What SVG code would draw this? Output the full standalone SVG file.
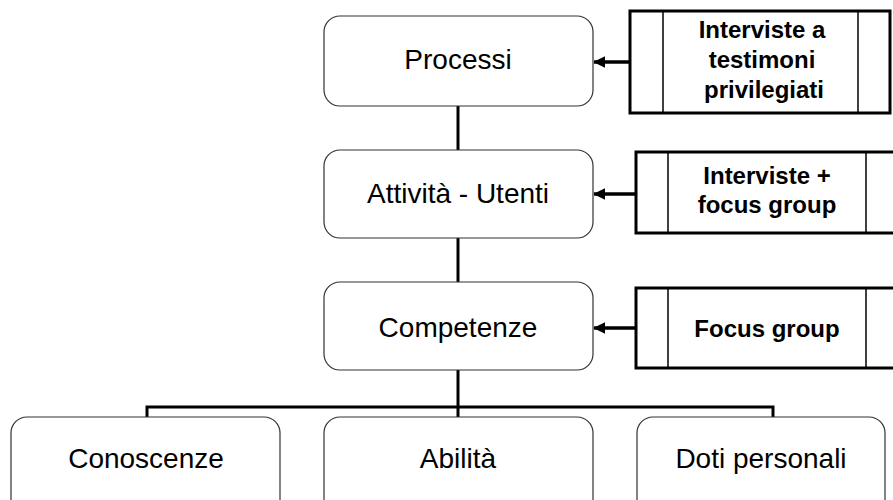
<svg xmlns="http://www.w3.org/2000/svg" width="893" height="500" viewBox="0 0 893 500">
<style>
.rb{fill:#fff;stroke:#333;stroke-width:1.2}
.t{font-family:"Liberation Sans",Arial,sans-serif;font-size:28px;fill:#000;text-anchor:middle}
.b{font-family:"Liberation Sans",Arial,sans-serif;font-size:24px;font-weight:bold;fill:#000;text-anchor:middle}
.ob{fill:#fff;stroke:#000;stroke-width:3}
.il{stroke:#000;stroke-width:1.5}
.c{stroke:#000;stroke-width:3;fill:none}
.ar{stroke:#000;stroke-width:3.5;fill:none;marker-end:url(#ah)}
</style>
<defs>
<marker id="ah" markerWidth="4" markerHeight="4" refX="3.2" refY="2" orient="auto" markerUnits="strokeWidth">
<path d="M0,0.3 L3.4,2 L0,3.7 Z" fill="#000"/>
</marker>
</defs>
<rect width="893" height="500" fill="#fff"/>
<g id="connectors">
<line class="c" x1="458" y1="106" x2="458" y2="150"/>
<line class="c" x1="458" y1="238" x2="458" y2="282"/>
<line class="c" x1="458" y1="370" x2="458" y2="417"/>
<polyline class="c" points="147,417 147,407 773,407 773,417"/>
<line class="ar" x1="630" y1="62" x2="594" y2="62"/>
<line class="ar" x1="636" y1="194" x2="594" y2="194"/>
<line class="ar" x1="636" y1="328" x2="594" y2="328"/>
</g>
<g id="processi">
<rect class="rb" x="324" y="16" width="269" height="90" rx="16"/>
<text class="t" x="458" y="69">Processi</text>
</g>
<g id="attivita">
<rect class="rb" x="324" y="150" width="269" height="88" rx="16"/>
<text class="t" x="458" y="203">Attività - Utenti</text>
</g>
<g id="competenze">
<rect class="rb" x="324" y="282" width="269" height="88" rx="16"/>
<text class="t" x="458" y="337">Competenze</text>
</g>
<g id="conoscenze">
<rect class="rb" x="11" y="417" width="269" height="100" rx="16"/>
<text class="t" x="146" y="468">Conoscenze</text>
</g>
<g id="abilita">
<rect class="rb" x="324" y="417" width="269" height="100" rx="16"/>
<text class="t" x="458" y="468">Abilità</text>
</g>
<g id="doti">
<rect class="rb" x="637" y="417" width="248" height="100" rx="16"/>
<text class="t" x="761" y="468">Doti personali</text>
</g>
<g id="interviste-testimoni">
<rect class="ob" x="630" y="11" width="260" height="102"/>
<line class="il" x1="663" y1="11" x2="663" y2="113"/>
<line class="il" x1="858" y1="11" x2="858" y2="113"/>
<text class="b" x="762" y="38">Interviste a</text>
<text class="b" x="762" y="68">testimoni</text>
<text class="b" x="764" y="98">privilegiati</text>
</g>
<g id="interviste-focus">
<rect class="ob" x="636" y="152" width="270" height="81"/>
<line class="il" x1="668" y1="152" x2="668" y2="233"/>
<line class="il" x1="866" y1="152" x2="866" y2="233"/>
<text class="b" x="767" y="184">Interviste +</text>
<text class="b" x="767" y="213">focus group</text>
</g>
<g id="focus-group">
<rect class="ob" x="636" y="288" width="270" height="80"/>
<line class="il" x1="668" y1="288" x2="668" y2="368"/>
<line class="il" x1="866" y1="288" x2="866" y2="368"/>
<text class="b" x="767" y="337">Focus group</text>
</g>
</svg>
